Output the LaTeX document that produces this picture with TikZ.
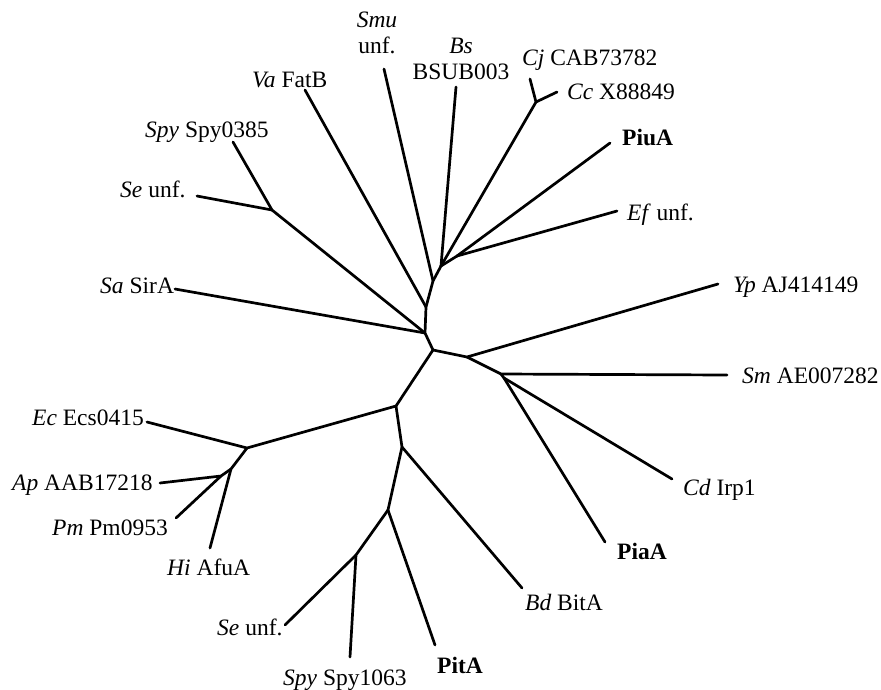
\documentclass[tikz,border=0pt]{standalone}
\usepackage{fontspec}
\setmainfont{Liberation Serif}
\begin{document}
\begin{tikzpicture}[x=1pt,y=-1pt,
  branch/.style={line width=2.7pt,line cap=round,line join=round},
  taxon/.style={inner sep=0pt,anchor=base west,font=\fontsize{23.5}{26}\selectfont},
  taxonc/.style={inner sep=0pt,anchor=base,align=center,font=\fontsize{23.5}{26}\selectfont}]
\useasboundingbox (0,0) rectangle (881,689);

% internal nodes
\coordinate (n0) at (433,350);
\coordinate (n1) at (425,333);
\coordinate (n2) at (426,307);
\coordinate (n3) at (433,281);
\coordinate (n4) at (441,266);
\coordinate (n5) at (457,256);
\coordinate (ncc) at (536,102);
\coordinate (nse) at (272,210);
\coordinate (nr) at (467,357);
\coordinate (ns) at (501,374);
\coordinate (ns2) at (504,378);
\coordinate (nb) at (396,406);
\coordinate (nec) at (247,448);
\coordinate (nh) at (231,469);
\coordinate (nap) at (221,476);
\coordinate (nbd) at (402,447);
\coordinate (np) at (388,510);
\coordinate (nspy) at (356,555);

% leaf tips
\coordinate (smu) at (384,69);
\coordinate (bs) at (456,87);
\coordinate (cj) at (530,79);
\coordinate (cc) at (557,92);
\coordinate (piu) at (610,143);
\coordinate (ef) at (617,211);
\coordinate (va) at (305,90);
\coordinate (spyA) at (233,142);
\coordinate (seA) at (197,196);
\coordinate (sa) at (175,289);
\coordinate (yp) at (718,284);
\coordinate (sm) at (727,375);
\coordinate (cd) at (672,479);
\coordinate (pia) at (605,542);
\coordinate (bd) at (522,588);
\coordinate (pit) at (435,645);
\coordinate (spyB) at (350,657);
\coordinate (seB) at (285,625);
\coordinate (hi) at (210,548);
\coordinate (pm) at (176,518);
\coordinate (ap) at (160,483);
\coordinate (ec) at (147,422);

% branches
\draw[branch] (n0) -- (n1) -- (n2) -- (n3) -- (n4) -- (n5);
\draw[branch] (n1) -- (sa);
\draw[branch] (n1) -- (nse) -- (spyA);
\draw[branch] (nse) -- (seA);
\draw[branch] (n2) -- (va);
\draw[branch] (n3) -- (smu);
\draw[branch] (n4) -- (bs);
\draw[branch] (n4) -- (ncc) -- (cj);
\draw[branch] (ncc) -- (cc);
\draw[branch] (n5) -- (piu);
\draw[branch] (n5) -- (ef);
\draw[branch] (n0) -- (nr) -- (yp);
\draw[branch] (nr) -- (ns) -- (sm);
\draw[branch] (ns) -- (ns2) -- (cd);
\draw[branch] (ns2) -- (pia);
\draw[branch] (n0) -- (nb) -- (nec) -- (ec);
\draw[branch] (nec) -- (nh) -- (hi);
\draw[branch] (nh) -- (nap) -- (ap);
\draw[branch] (nap) -- (pm);
\draw[branch] (nb) -- (nbd) -- (bd);
\draw[branch] (nbd) -- (np) -- (pit);
\draw[branch] (np) -- (nspy) -- (spyB);
\draw[branch] (nspy) -- (seB);

% taxon labels (two-line labels are placed by their last baseline)
\node[taxonc] (lsmu) at (377,53) {\textit{Smu}\\unf.};
\node[taxonc] (lbs) at (461,79) {\textit{Bs}\\BSUB003};
\node[taxon] (lcj) at (522,65) {\textit{Cj} CAB73782};
\node[taxon] (lcc) at (567,99) {\textit{Cc} X88849};
\node[taxon] (lpiu) at (622,145) {\textbf{PiuA}};
\node[taxon] (lef) at (627,220) {\textit{Ef} unf.};
\node[taxon] (lva) at (252,87) {\textit{Va} FatB};
\node[taxon] (lspyA) at (145,137) {\textit{Spy} Spy0385};
\node[taxon] (lseA) at (120,197) {\textit{Se} unf.};
\node[taxon] (lsa) at (100,293) {\textit{Sa} SirA};
\node[taxon] (lyp) at (733,292) {\textit{Yp} AJ414149};
\node[taxon] (lsm) at (742,383) {\textit{Sm} AE007282};
\node[taxon] (lcd) at (683,495) {\textit{Cd} Irp1};
\node[taxon] (lpia) at (617,559) {\textbf{PiaA}};
\node[taxon] (lbd) at (525,610) {\textit{Bd} BitA};
\node[taxon] (lpit) at (437,673) {\textbf{PitA}};
\node[taxon] (lspyB) at (283,685) {\textit{Spy} Spy1063};
\node[taxon] (lseB) at (217,635) {\textit{Se} unf.};
\node[taxon] (lhi) at (167,575) {\textit{Hi} AfuA};
\node[taxon] (lpm) at (52,535) {\textit{Pm} Pm0953};
\node[taxon] (lap) at (12,490) {\textit{Ap} AAB17218};
\node[taxon] (lec) at (32,425) {\textit{Ec} Ecs0415};
\end{tikzpicture}
\end{document}
